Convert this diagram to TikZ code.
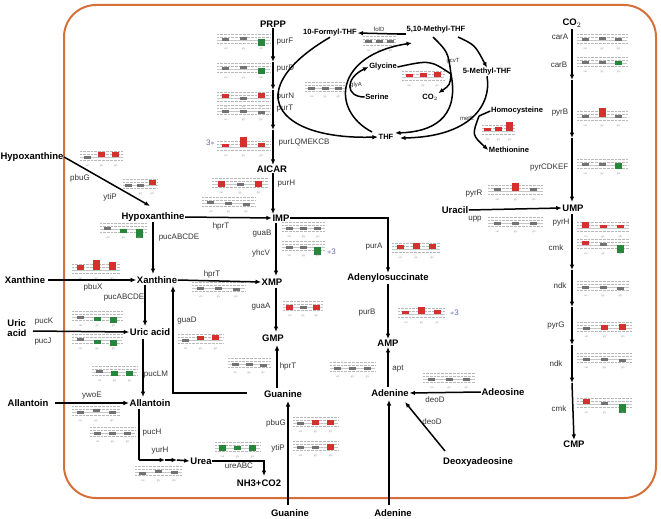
\documentclass[tikz,border=0pt]{standalone}
\usepackage{fontspec}
\setmainfont{Liberation Sans}
\usetikzlibrary{arrows.meta}
\definecolor{frameor}{RGB}{214,112,58}
\definecolor{gry}{RGB}{115,115,115}
\definecolor{rd}{RGB}{212,48,45}
\definecolor{gn}{RGB}{38,135,58}
\definecolor{starc}{RGB}{100,110,165}
\tikzset{
 met/.style={font=\fontsize{9.5}{10}\selectfont\bfseries, inner sep=0.5pt},
 mets/.style={font=\fontsize{7.6}{8}\selectfont\bfseries, inner sep=0.5pt},
 gene/.style={font=\fontsize{8}{9}\selectfont, text=black!80, inner sep=0.5pt},
 genes/.style={font=\fontsize{6}{7}\selectfont, text=black!80, inner sep=0.5pt},
 ln/.style={line width=1.5pt},
 arr/.style={line width=1.5pt, -{Latex[length=5.5pt,width=4.5pt]}},
 gridl/.style={gray!55, densely dotted, line width=0.35pt},
 basel/.style={gray!45, line width=0.8pt},
 tinylab/.style={font=\fontsize{2.6}{3}\selectfont, text=gray!80, inner sep=0pt},
 starlab/.style={font=\fontsize{8}{9}\selectfont, text=starc, inner sep=0pt},
}
\newcommand{\mchart}[4]{%
 \begin{scope}[shift={(#1,#2)}]
  \foreach \yy in {-6,-3,3} \draw[gridl] (0,\yy) -- (#3,\yy);
  \draw[basel] (0,0) -- (#3,0);
  \foreach \c/\t/\b [count=\i] in {#4} \fill[\c] ({(\i-0.5)*#3/3-3.5},\t) rectangle ({(\i-0.5)*#3/3+3.5},\b);
  \foreach \l [count=\i] in {val,gly,gln} \node[tinylab] at ({(\i-0.5)*#3/3},9) {\l};
 \end{scope}}
\begin{document}
\begin{tikzpicture}[x=1pt,y=-1pt]
\useasboundingbox (0,0) rectangle (661,519);
\draw[frameor, line width=2pt, rounded corners=32] (64,5) rectangle (656,498);

% ---------- metabolites ----------
\node[met] (PRPP) at (273,24) {PRPP};
\node[met] (AICAR) at (272,169) {AICAR};
\node[met] (IMP) at (281,218) {IMP};
\node[met] (XMP) at (272,282) {XMP};
\node[met] (GMP) at (273,338) {GMP};
\node[met] (Gua) at (283,394) {Guanine};
\node[met] (GuaB) at (290,513) {Guanine};
\node[met] (HypO) at (32,157) {Hypoxanthine};
\node[met] (Hyp) at (153,217) {Hypoxanthine};
\node[met] (XanO) at (25,280) {Xanthine};
\node[met] (Xan) at (157,280) {Xanthine};
\node[met, align=left] (UriO) at (17,328) {Uric\\acid};
\node[met] (Uri) at (150,332) {Uric acid};
\node[met] (AllO) at (28,403) {Allantoin};
\node[met] (All) at (150,403) {Allantoin};
\node[met] (Urea) at (201,461) {Urea};
\node[met] (NH3) at (259,483) {NH3+CO2};
\node[met] (Ads) at (388,278) {Adenylosuccinate};
\node[met] (AMP) at (388,343) {AMP};
\node[met] (Ade) at (390,393) {Adenine};
\node[met] (Adeo) at (503,392) {Adeosine};
\node[met] (Dade) at (478,462) {Deoxyadeosine};
\node[met] (AdeB) at (393,513) {Adenine};
\node[met] (CO2r) at (572,23) {CO$_2$};
\node[met] (UMP) at (573,208) {UMP};
\node[met] (CMP) at (574,444) {CMP};
\node[met] (Ura) at (455,210) {Uracil};

\node[mets] (FTHF) at (330,33) {10-Formyl-THF};
\node[mets] (MTHF) at (436,30) {5,10-Methyl-THF};
\node[mets] (MeTHF) at (487,72) {5-Methyl-THF};
\node[mets] (Gly) at (383,67) {Glycine};
\node[mets] (Ser) at (377,97) {Serine};
\node[mets] (CO2c) at (430,97) {CO$_2$};
\node[mets] (THF) at (386,137) {THF};
\node[mets] (Hcy) at (517,111) {Homocysteine};
\node[mets] (Met) at (509,150) {Methionine};

% ---------- genes ----------
\node[gene, anchor=west] at (276,42) {purF};
\node[gene, anchor=west] at (276,69) {purD};
\node[gene, anchor=west] at (276,97) {purN};
\node[gene, anchor=west] at (276,109) {purT};
\node[gene, anchor=west] at (278,143) {purLQMEKCB};
\node[gene, anchor=west] at (277,184) {purH};
\node[gene] at (221,226) {hprT};
\node[gene] at (262,234) {guaB};
\node[gene] at (261,253) {yhcV};
\node[gene] at (374,247) {purA};
\node[gene] at (261,307) {guaA};
\node[gene] at (212,274) {hprT};
\node[gene] at (288,366) {hprT};
\node[gene] at (187,321) {guaD};
\node[gene] at (179,238) {pucABCDE};
\node[gene] at (124,298) {pucABCDE};
\node[gene] at (80,178) {pbuG};
\node[gene] at (110,197) {ytiP};
\node[gene] at (93,287) {pbuX};
\node[gene] at (44,322) {pucK};
\node[gene] at (43,342) {pucJ};
\node[gene] at (156,375) {pucLM};
\node[gene] at (92,396) {ywoE};
\node[gene] at (152,433) {pucH};
\node[gene] at (160,451) {yurH};
\node[gene] at (239,466) {ureABC};
\node[gene] at (276,423) {pbuG};
\node[gene] at (278,448) {ytiP};
\node[gene] at (367,313) {purB};
\node[gene] at (398,369) {apt};
\node[gene] at (435,400) {deoD};
\node[gene] at (432,422) {deoD};
\node[gene] at (560,37) {carA};
\node[gene] at (559,65) {carB};
\node[gene] at (560,113) {pyrB};
\node[gene, anchor=east] at (569,168) {pyrCDKEF};
\node[gene] at (474,194) {pyrR};
\node[gene] at (475,219) {upp};
\node[gene] at (561,223) {pyrH};
\node[gene] at (556,248) {cmk};
\node[gene] at (560,286) {ndk};
\node[gene] at (556,326) {pyrG};
\node[gene] at (556,364) {ndk};
\node[gene] at (559,409) {cmk};
\node[genes] at (379,29) {folD};
\node[genes] at (453,61) {gcvT};
\node[genes] at (356,85) {glyA};
\node[genes] at (467,118) {metE};

\node[starlab, anchor=east] at (215,143) {3$\ast$};
\node[starlab, anchor=west] at (327,252) {$\ast$3};
\node[starlab, anchor=west] at (450,313) {$\ast$3};

% ---------- charts ----------
\mchart{217}{40}{53}{gry/-1.5/1.5, gry/-2.5/0.5, gn/-1/6}
\mchart{217}{69}{53}{gry/-1.5/1.5, gry/-3/0, gn/-1/5}
\mchart{217}{98}{53}{rd/-4/0, gry/-1.5/1.5, rd/-5/0}
\mchart{217}{111}{53}{gry/-1.5/1.5, gry/-1.5/1.5, gry/0/3}
\mchart{217}{147}{53}{rd/-3/0, rd/-10/0, rd/-4/0}
\mchart{363}{42}{33}{gry/-1.5/1.5, gry/-1.5/1.5, gry/-1.5/1.5}
\mchart{305}{88}{40}{gry/-1.5/1.5, gry/-1.5/1.5, gry/-1.5/1.5}
\mchart{402}{77}{42}{rd/-3/0, rd/-4/0, rd/-4.5/0}
\mchart{482}{131}{33}{rd/-3/0, rd/-4/0, rd/-9/0}
\mchart{212}{184}{56}{rd/-3.5/3, gry/-1.5/1.5, rd/-3/3}
\mchart{202}{203}{53}{gry/-2/1, gry/-1.5/1.5, gry/0/3}
\mchart{80}{157}{43}{gry/-1.5/1.5, rd/-5/0, rd/-5/0}
\mchart{123}{185}{35}{gry/-1.5/1.5, gry/-1.5/1.5, rd/-5/0}
\mchart{100}{229}{47}{gry/-2/1, gn/0/4, gn/0/9}
\mchart{72}{270}{48}{rd/-5/0, rd/-10/0, rd/-8/0}
\mchart{192}{288}{53}{gry/-1.5/1.5, gry/-1.5/1.5, gry/0/3}
\mchart{72}{317}{50}{gry/-1.5/1.5, gn/0/4, gn/0/6}
\mchart{72}{340}{50}{gry/-2/1, gn/0/4, gn/0/6}
\mchart{178}{340}{45}{gry/-1.5/1.5, rd/-4/0, rd/-5/0}
\mchart{92}{372}{45}{gry/-2/1, gn/-1/4, gn/-1/4}
\mchart{72}{412}{48}{gry/-1.5/1.5, gry/-3/0, gry/-1.5/1.5}
\mchart{90}{433}{45}{gry/-1.5/1.5, gry/-1.5/1.5, gry/-1.5/1.5}
\mchart{135}{472}{47}{gry/0/3, gry/-2/1, gry/-1/2}
\mchart{215}{448}{45}{gn/-3/3, gn/-2/2, gn/-3/3}
\mchart{293}{423}{45}{gry/-1.5/1.5, rd/-3/2, rd/-3/2}
\mchart{293}{447}{45}{gry/-1.5/1.5, gry/-1.5/1.5, rd/-3.5/3}
\mchart{282}{228}{43}{gry/-1.5/1.5, gry/-1.5/1.5, gry/-1.5/1.5}
\mchart{282}{247}{43}{gry/-1.5/1.5, gry/-1.5/1.5, gn/0/8}
\mchart{283}{307}{40}{rd/-2.5/2.5, gry/-1.5/1.5, rd/-2.5/2.5}
\mchart{228}{364}{42}{gry/-1.5/1.5, gry/-1.5/1.5, gry/0/3}
\mchart{392}{249}{48}{rd/-4/0, rd/-6/0, rd/-5/0}
\mchart{398}{314}{47}{rd/-3/0, rd/-7/0, rd/-4/0}
\mchart{330}{368}{45}{gry/-1.5/1.5, gry/-1.5/1.5, gry/-1.5/1.5}
\mchart{423}{379}{52}{gry/-1.5/1.5, gry/-1.5/1.5, gry/-1.5/1.5}
\mchart{577}{40}{50}{gry/-1.5/1.5, gry/-3/0, gry/-1.5/1.5}
\mchart{577}{63}{50}{gry/-1.5/1.5, gry/-1.5/1.5, gn/-2/2.5}
\mchart{577}{117}{50}{gry/-2/1, rd/-9/0, gry/-2/1}
\mchart{577}{165}{50}{gry/-2/1, gry/-2/1, gn/-2/3.5}
\mchart{488}{191}{55}{gry/-3/0, rd/-8/0, gry/-3/0}
\mchart{488}{223}{55}{gry/-1.5/1.5, gry/-1.5/1.5, gry/-1.5/1.5}
\mchart{577}{228}{52}{rd/-6/0, rd/-3/0, rd/-3.5/0}
\mchart{577}{245}{52}{rd/-4/0, gry/-2/1, gn/0/8}
\mchart{577}{287}{52}{gry/-1.5/1.5, gry/-1.5/1.5, gry/0/3}
\mchart{577}{328}{55}{gry/-1.5/1.5, rd/-3/1.5, rd/-4/1.5}
\mchart{577}{359}{55}{gry/-1.5/1.5, gry/-1.5/1.5, gry/0/3}
\mchart{577}{404}{55}{rd/-5/0, gry/-2/1, gn/0/9}

% ---------- connectors ----------
% PRPP column
\coordinate (p1) at (273,62); \coordinate (p2) at (273,90); \coordinate (p3) at (273,130);
\draw[arr] (PRPP.south -| p1) -- (p1);
\draw[arr] (p1) -- (p2);
\draw[arr] (p2) -- (p3);
\draw[arr] (p3) -- (p3 |- AICAR.north);
\draw[arr] (AICAR.south -| p1) -- (p1 |- IMP.north);
\draw[arr] (Hyp.east) -- (IMP.west);
\draw[arr] (IMP.east) -- (388,218) -- (Ads.north);
\draw[arr] (276,223) -- (276,276);
\draw[arr] (276,288) -- (276,332);
\draw[arr] (277,388) -- (277,345);
\coordinate (gd) at (247,393);
\draw[arr] (gd) -- (173,393) -- (173,286);
\draw[arr] (Xan.east) -- (XMP.west);
\draw[arr] (153,222) -- (153,274);
\draw[arr] (145,285) -- (145,326);
\draw[arr] (143,339) -- (143,397);
\coordinate (c1) at (139,460); \coordinate (u1) at (165,460); \coordinate (u2) at (177,460);
\draw[ln] (139,409) -- (c1);
\draw[arr] (c1) -- (u1);
\draw[arr] (u1) -- (u2);
\draw[arr] (u2) -- (Urea.west);
\draw[arr] (Urea.east) -- (264,461) -- (264,476);
\draw[arr] (HypO.east) -- (150,206);
\draw[arr] (48,280) -- (Xan.west);
\draw[arr] (33,331) -- (Uri.west);
\draw[arr] (55,403) -- (All.west);
\draw[arr] (288,505) -- (288,401);
\draw[arr] (388,284) -- (AMP.north);
\draw[arr] (388,387) -- (AMP.south);
\draw[arr] (Adeo.west) -- (Ade.east);
\draw[arr] (445,451) -- (405,402);
\draw[arr] (389,505) -- (389,400);
% right column
\coordinate (r1) at (572,80); \coordinate (r2) at (572,138);
\draw[arr] (572,29) -- (r1);
\draw[arr] (r1) -- (r2);
\draw[arr] (r2) -- (572,202);
\draw[arr] (Ura.east) -- (UMP.west);
\coordinate (s1) at (572,270); \coordinate (s2) at (572,307); \coordinate (s3) at (572,345); \coordinate (s4) at (572,383);
\draw[arr] (572,214) -- (s1);
\draw[arr] (s1) -- (s2);
\draw[arr] (s2) -- (s3);
\draw[arr] (s3) -- (s4);
\draw[arr] (s4) -- (CMP.north);
% THF cycle
\draw[ln] (397,34) -- (MTHF.west |- 397,34);
\draw[arr] (397,34) -- (FTHF.east);
\draw[arr] (FTHF.south) .. controls (240,90) and (275,140) .. (THF.west);
\draw[arr] (372,132) .. controls (330,110) and (335,55) .. (412,43);
\draw[arr] (Ser.west) .. controls (345,97) and (345,78) .. (Gly.west);
\coordinate (gj) at (451,74);
\draw[ln] (433,37) .. controls (448,52) .. (gj);
\draw[ln] (Gly.east) .. controls (430,60) .. (gj);
\draw[arr] (gj) .. controls (450,85) .. (CO2c.north east);
\draw[arr] (gj) .. controls (460,120) and (430,132) .. (395,133);
\draw[arr] (458,37) .. controls (475,45) .. (MeTHF.north);
\coordinate (mj) at (479,116);
\draw[arr] (MeTHF.south) .. controls (492,105) and (470,137) .. (400,138);
\draw[ln] (Hcy.west) -- (mj);
\draw[arr] (mj) .. controls (472,135) .. (Met.west);
\end{tikzpicture}
\end{document}
